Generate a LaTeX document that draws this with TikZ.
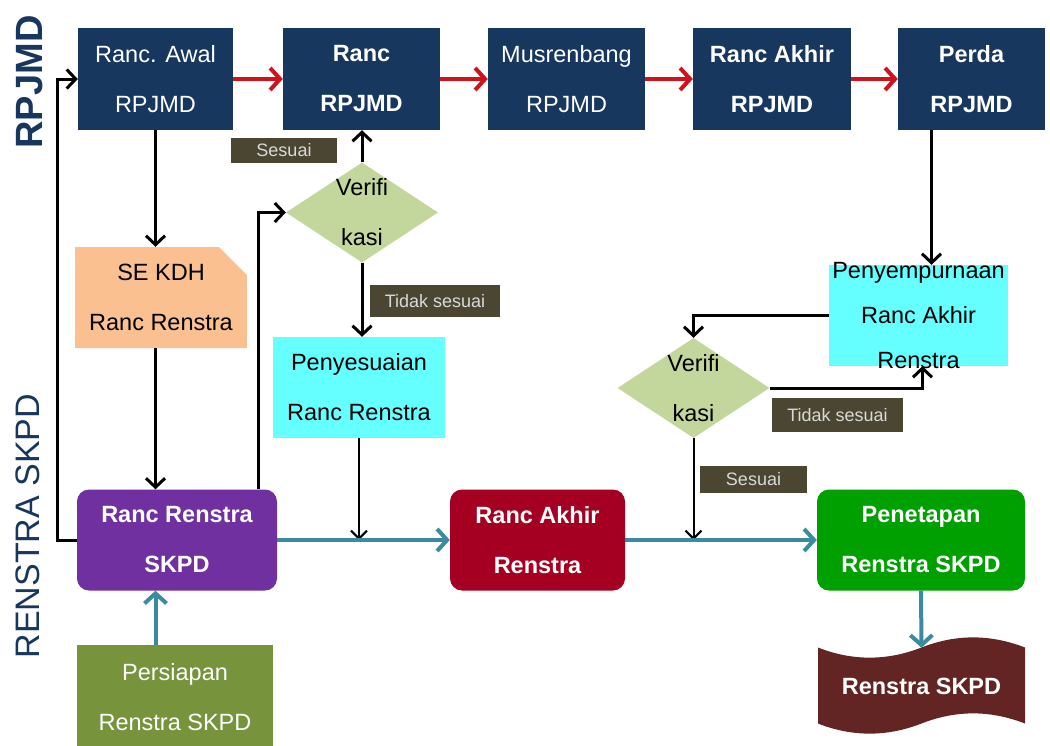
\documentclass[tikz,border=0pt]{standalone}
\usepackage{fontspec}
\setmainfont{Liberation Sans}
\usetikzlibrary{shapes.geometric,shapes.misc,arrows.meta}
\definecolor{navy}{HTML}{17375E}
\definecolor{arrred}{HTML}{D0121B}
\definecolor{peach}{HTML}{FAC090}
\definecolor{aqua}{HTML}{66FFFF}
\definecolor{sage}{HTML}{C3D69B}
\definecolor{labbg}{HTML}{4B4631}
\definecolor{labtxt}{HTML}{D9D9D9}
\definecolor{purp}{HTML}{7030A0}
\definecolor{crimson}{HTML}{A50021}
\definecolor{leaf}{HTML}{00A000}
\definecolor{olive}{HTML}{77933C}
\definecolor{maroon}{HTML}{632523}
\definecolor{tealc}{HTML}{3A8BA0}

\begin{document}
\begin{tikzpicture}[x=1pt,y=-1pt,
    box/.style={shape=rectangle, inner sep=0pt, align=center, font=\fontsize{23.5}{50}\selectfont},
    navybox/.style={box, fill=navy, text=white, minimum height=102pt},
    lightbox/.style={box, text=black, minimum height=101pt},
    roundbox/.style={box, rounded corners=12pt, text=white, minimum height=101pt},
    decision/.style={shape=diamond, fill=sage, inner sep=0pt, minimum width=152pt, minimum height=100pt},
    tag/.style={fill=labbg, text=labtxt, inner sep=0pt, font=\fontsize{18}{20}\selectfont},
    redarr/.style={draw=arrred, line width=4pt, -{Straight Barb[length=10pt,width=22pt]}},
    blkarr/.style={draw=black, line width=3pt, -{Straight Barb[length=9pt,width=19pt]}},
    thinarr/.style={draw=black, line width=2pt, -{Straight Barb[length=8pt,width=16pt]}},
    tealarr/.style={draw=tealc, line width=4pt, -{Straight Barb[length=10pt,width=22pt]}}]
    \useasboundingbox (0,0) rectangle (1050,745);
    % side titles
    \node[rotate=90, font=\fontsize{38}{40}\selectfont\bfseries, text=navy] (rpjmd) at (30,82) {RPJMD};
    \node[rotate=90, font=\fontsize{34}{36}\selectfont, text=navy] (renstra) at (28,526) {RENSTRA SKPD};
    % RPJMD row
    \node[navybox, minimum width=155pt] (awal) at (155.5,79) {Ranc. Awal\\RPJMD};
    \node[navybox, minimum width=157pt, font=\fontsize{23.5}{50}\selectfont\bfseries] (ranc) at (361.5,79) {Ranc\\RPJMD};
    \node[navybox, minimum width=157pt] (musren) at (566.5,79) {Musrenbang\\RPJMD};
    \node[navybox, minimum width=158pt, font=\fontsize{23.5}{50}\selectfont\bfseries] (akhir) at (772,79) {Ranc Akhir\\RPJMD};
    \node[navybox, minimum width=147pt, font=\fontsize{23.5}{50}\selectfont\bfseries] (perda) at (971.5,79) {Perda\\RPJMD};
    % Renstra side
    \node[lightbox, fill=peach, shape=chamfered rectangle, chamfered rectangle corners=north east,
          chamfered rectangle xsep=14pt, chamfered rectangle ysep=14pt, minimum width=168pt] (sekdh) at (161,297.5) {SE KDH\\Ranc Renstra};
    \node[decision, label={[align=center, font=\fontsize{23.5}{50}\selectfont]center:Verifi\\kasi}] (ver1) at (362,212.5) {};
    \node[lightbox, fill=aqua, minimum width=172pt] (penyes) at (359,387.5) {Penyesuaian\\Ranc Renstra};
    \node[roundbox, fill=purp, minimum width=200pt, font=\fontsize{23.5}{50}\selectfont\bfseries] (rrs) at (177,540) {Ranc Renstra\\SKPD};
    \node[box, fill=olive, text=white, minimum width=196pt, minimum height=104pt] (persiapan) at (175,697) {Persiapan\\Renstra SKPD};
    \node[roundbox, fill=crimson, minimum width=175pt, font=\fontsize{23.5}{50}\selectfont\bfseries] (rar) at (537.5,540) {Ranc Akhir\\Renstra};
    \node[roundbox, fill=leaf, minimum width=208pt, font=\fontsize{23.5}{50}\selectfont\bfseries] (penet) at (921,540) {Penetapan\\Renstra SKPD};
    \node[lightbox, fill=aqua, minimum width=179pt,
          label={[align=center, font=\fontsize{23.5}{45}\selectfont]center:Penyempurnaan\\Ranc Akhir\\Renstra}] (penyem) at (918.5,315.5) {};
    \node[decision, label={[align=center, font=\fontsize{23.5}{50}\selectfont]center:Verifi\\kasi}] (ver2) at (693.5,388) {};
    % document banner
    \fill[maroon] (818,647.5) .. controls (852,661) and (887,661) .. (921.5,647.5)
        .. controls (956,634) and (990,634) .. (1025,647.5) -- (1025,723.5)
        .. controls (990,710) and (956,710) .. (921.5,723.5)
        .. controls (887,737) and (852,737) .. (818,723.5) -- cycle;
    \node[box, text=white, minimum width=207pt, minimum height=76pt, font=\fontsize{23.5}{26}\selectfont\bfseries] (doc) at (921.5,686) {Renstra SKPD};
    % labels
    \node[tag, minimum width=106pt, minimum height=25pt] (sesuai1) at (284,150.5) {Sesuai};
    \node[tag, minimum width=130pt, minimum height=32pt] (tidak1) at (435,301) {Tidak sesuai};
    \node[tag, minimum width=131pt, minimum height=34pt] (tidak2) at (837.5,415) {Tidak sesuai};
    \node[tag, minimum width=107pt, minimum height=27pt] (sesuai2) at (753.5,479.5) {Sesuai};
    % red flow
    \path [redarr] (awal) edge (ranc);
    \path [redarr] (ranc) edge (musren);
    \path [redarr] (musren) edge (akhir);
    \path [redarr] (akhir) edge (perda);
    % black flow
    \draw[blkarr] (awal.south) -- (awal.south |- sekdh.north);
    \draw[blkarr] (sekdh.south -| awal.south) -- (awal.south |- rrs.north);
    \draw[blkarr] (rrs.west) -- ++(-19,0) |- (awal.west);
    \draw[blkarr] ([xshift=-19pt]rrs.north east) |- (ver1.west);
    \draw[blkarr] (ver1.north) -- (ver1.north |- ranc.south);
    \draw[blkarr] (ver1.south) -- (ver1.south |- penyes.north);
    \draw[thinarr] (penyes.south) -- (penyes.south |- rrs.east);
    \draw[blkarr] ([xshift=-40pt]perda.south) -- ([xshift=-40pt]perda.south |- penyem.north);
    \draw[blkarr] (penyem.west) -| (ver2.north);
    \draw[blkarr] (ver2.east) -| ([xshift=4pt]penyem.south);
    \draw[thinarr] (ver2.south) -- (ver2.south |- rar.east);
    % teal flow
    \path [tealarr] (rrs) edge (rar);
    \path [tealarr] (rar) edge (penet);
    \draw[tealarr] (awal.south |- persiapan.north) -- (awal.south |- rrs.south);
    \draw[tealarr] (penet.south) -- (doc.north);
\end{tikzpicture}
\end{document}
